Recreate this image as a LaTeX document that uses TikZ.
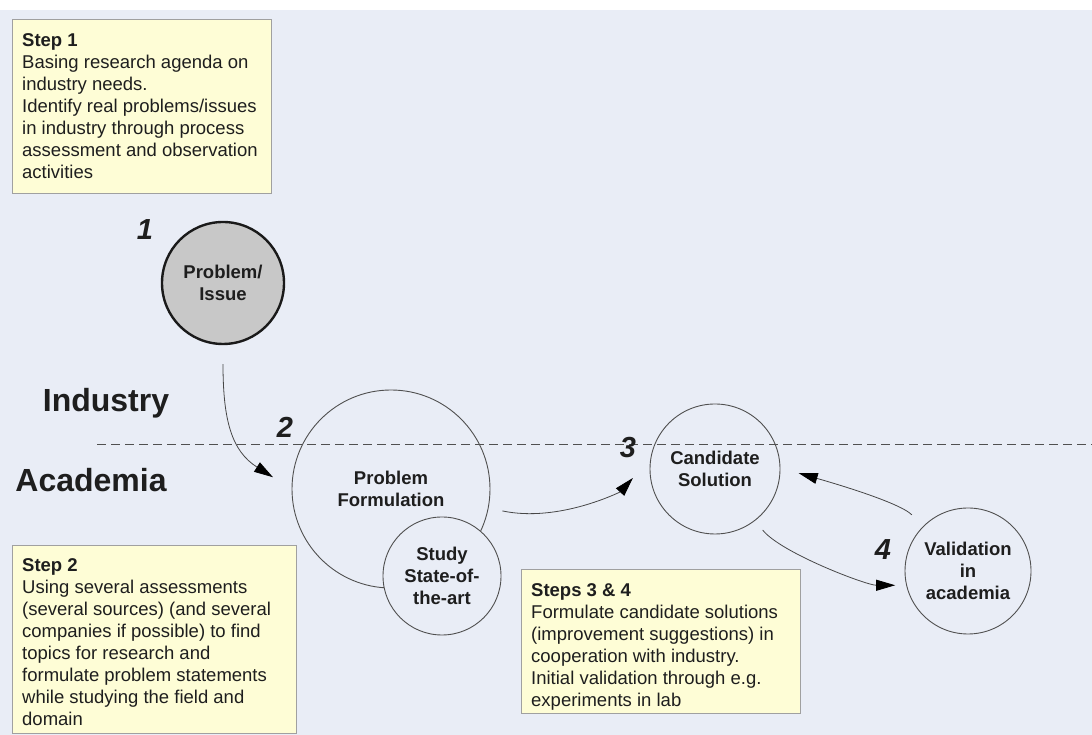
\documentclass[tikz,border=0pt]{standalone}
\usepackage{fontspec}
\setmainfont{Liberation Sans}
\usetikzlibrary{arrows.meta}
\definecolor{bgc}{HTML}{E9EDF6}
\definecolor{boxfill}{HTML}{FEFDD6}
\definecolor{boxline}{HTML}{A0A0A0}
\definecolor{txt}{HTML}{1E1E1E}
\definecolor{circline}{HTML}{505050}
\definecolor{c1fill}{HTML}{C8C8C8}
\definecolor{c1line}{HTML}{1A1A1A}
\definecolor{arrcol}{HTML}{474747}
\begin{document}
\begin{tikzpicture}[x=1pt,y=1pt,
  stepbox/.style={draw=boxline, fill=boxfill, line width=0.8pt, inner sep=0pt, anchor=north west, rectangle},
  boxtext/.style={anchor=north west, inner sep=0pt, align=left, text=txt, font=\fontsize{18.5}{22}\selectfont},
  circ/.style={circle, draw=circline, line width=0.9pt, inner sep=0pt, align=center, text=txt, font=\bfseries\fontsize{18.5}{22}\selectfont},
  num/.style={inner sep=0pt, text=txt, font=\bfseries\itshape\fontsize{29}{29}\selectfont},
  region/.style={inner sep=0pt, text=txt, font=\bfseries\fontsize{32}{32}\selectfont},
  arr/.style={draw=arrcol, line width=0.8pt, -{Triangle[length=19pt,width=11pt,color=black,fill=black]}}
]
\useasboundingbox (0,0) rectangle (1092,735);
\fill[white] (0,0) rectangle (1092,735);
\fill[bgc] (0,0) rectangle (1092,725);

% dashed boundary
\draw[circline, line width=1pt, dash pattern=on 9pt off 5pt] (97,290) -- (1092,290);

% region labels
\node[region] (ind) at (106,332) {Industry};
\node[region] (aca) at (91,255) {Academia};

% step boxes
\node[stepbox, minimum width=259pt, minimum height=174pt] (b1) at (12,716) {};
\node[boxtext] (t1) at ([shift={(10,-14)}]b1.north west) {\textbf{Step 1}\\Basing research agenda on\\industry needs.\\Identify real problems/issues\\in industry through process\\assessment and observation\\activities};

\node[stepbox, minimum width=284pt, minimum height=188pt] (b2) at (12,190) {};
\node[boxtext] (t2) at ([shift={(10,-13)}]b2.north west) {\textbf{Step 2}\\Using several assessments\\(several sources) (and several\\companies if possible) to find\\topics for research and\\formulate problem statements\\while studying the field and\\domain};

\node[stepbox, minimum width=279pt, minimum height=144pt] (b3) at (521,166) {};
\node[boxtext] (t3) at ([shift={(10,-14)}]b3.north west) {\textbf{Steps 3 \& 4}\\Formulate candidate solutions\\(improvement suggestions) in\\cooperation with industry.\\Initial validation through e.g.\\experiments in lab};

% circles
\node[circ, fill=c1fill, draw=c1line, line width=2.4pt, minimum size=122pt] (c1) at (223,452) {Problem/\\Issue};
\node[circ, minimum size=198pt] (pf) at (391,246) {Problem\\Formulation};
\node[circ, fill=bgc, minimum size=118pt] (ss) at (442,159) {Study\\State-of-\\the-art};
\node[circ, minimum size=130pt] (cs) at (715,266) {Candidate\\Solution};
\node[circ, minimum size=126pt] (va) at (968,164) {Validation\\in\\academia};

% step numbers
\node[num] (n1) at (145,505) {1};
\node[num] (n2) at (285,308) {2};
\node[num] (n3) at (628,287) {3};
\node[num] (n4) at (883,185) {4};

% connectors
\draw[arr, shorten <=19pt, shorten >=22pt] (c1.south) .. controls +(0,-75) and +(-60,38) .. (pf.180);
\draw[arr, shorten <=14pt, shorten >=26pt] (pf.-11) .. controls +(70,-15) and +(-30,-33) .. (cs.171);
\draw[arr, shorten <=12pt, shorten >=11pt] (cs.-52) .. controls +(25,-32) and +(-40,0) .. (va.193);
\draw[arr, shorten <=16pt, shorten >=19pt] (va.135) .. controls +(-25,25) and +(38,-11) .. (cs.1);
\end{tikzpicture}
\end{document}
